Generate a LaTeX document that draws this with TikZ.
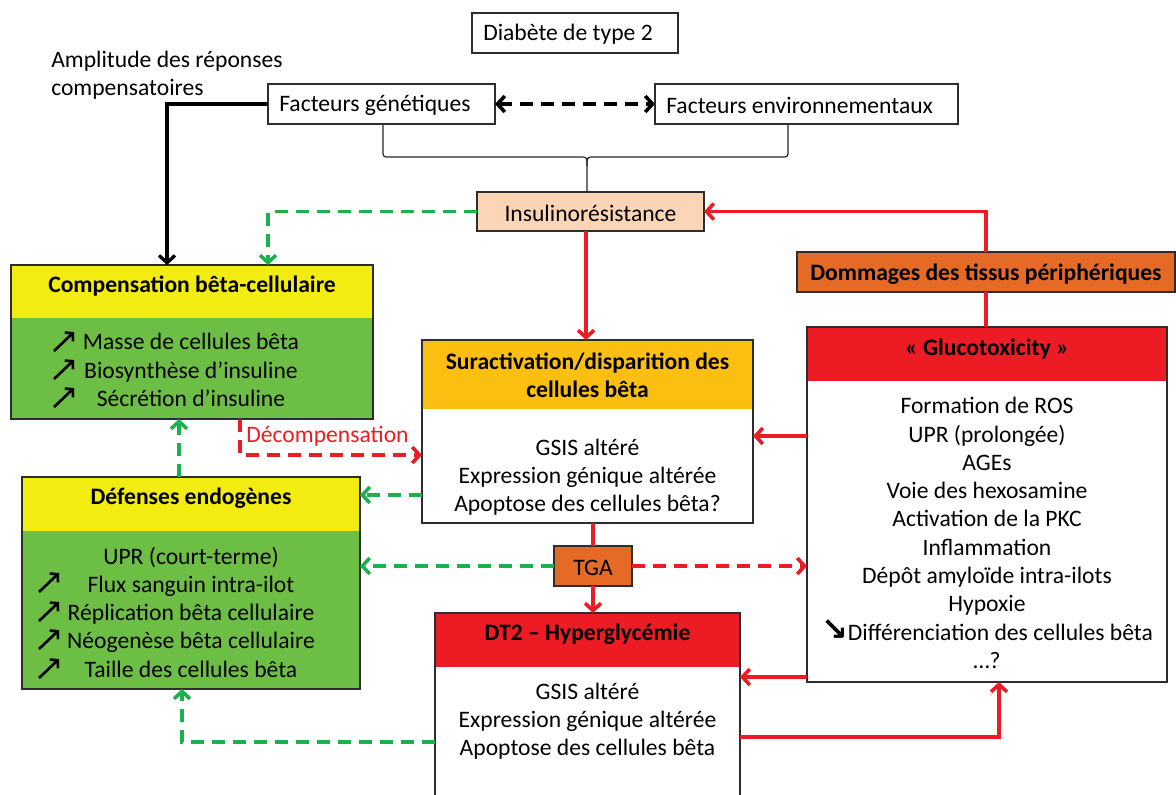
\documentclass[tikz,border=0pt]{standalone}
\usepackage{fontspec}
\setmainfont{Carlito}
\newfontfamily\arrfont{DejaVu Sans}
\usetikzlibrary{arrows.meta,fit}
\definecolor{hdyellow}{RGB}{243,236,17}
\definecolor{bodygreen}{RGB}{109,190,69}
\definecolor{hdorange}{RGB}{251,191,18}
\definecolor{myred}{RGB}{237,28,36}
\definecolor{myorange}{RGB}{228,106,38}
\definecolor{peach}{RGB}{251,213,181}
\definecolor{dashgreen}{RGB}{29,177,75}
\definecolor{boxborder}{RGB}{45,45,45}
\begin{document}
\begin{tikzpicture}[x=0.75pt,y=-0.75pt,
  txt/.style={font=\fontsize{17.7}{21.2}\selectfont, inner sep=0pt, align=center},
  ttl/.style={font=\fontsize{17.7}{21.2}\selectfont\bfseries, inner sep=0pt, align=center},
  area/.style={inner sep=0pt, outer sep=0pt},
  outline/.style={draw=boxborder, line width=1.1pt},
  symarr/.style={draw=black, line width=2pt, -{Straight Barb[length=4pt,width=9pt]}},
  tip/.style={-{Straight Barb[length=5.5pt,width=12pt]}},
  tips/.style={{Straight Barb[length=5.5pt,width=12pt]}-{Straight Barb[length=5.5pt,width=12pt]}},
  redl/.style={draw=myred, line width=2.7pt},
  reddash/.style={draw=myred, line width=2.7pt, dash pattern=on 9.75pt off 6pt},
  greenl/.style={draw=dashgreen, line width=2.7pt, dash pattern=on 9.75pt off 6pt},
  blackl/.style={draw=black, line width=2.5pt},
  blackdash/.style={draw=black, line width=2.7pt, dash pattern=on 9.75pt off 6pt},
  bracel/.style={draw=black!85, line width=0.9pt}
]
\useasboundingbox (0,0) rectangle (1176,794);
\clip (0,0) rectangle (1176,794);

% ---------- top boxes ----------
\node[area, fit={(472,13)(678,53)}] (diab) {};
\draw[outline] (diab.north west) rectangle (diab.south east);
\node[txt, anchor=west] (diabt) at (483,34) {Diabète de type 2};

\node[txt, anchor=west, align=left] (ampl) at (51,75) {Amplitude des réponses\\compensatoires};

\node[area, fit={(268,84)(495,124)}] (gen) {};
\draw[outline] (gen.north west) rectangle (gen.south east);
\node[txt, anchor=west] (gent) at (279,105) {Facteurs génétiques};

\node[area, fit={(655,84)(958,124)}] (env) {};
\draw[outline] (env.north west) rectangle (env.south east);
\node[txt, anchor=west] (envt) at (666,105) {Facteurs environnementaux};

\node[area, fill=peach, fit={(477,192)(704,231)}] (insul) {};
\draw[outline] (insul.north west) rectangle (insul.south east);
\node[txt] (insult) at (590.5,213) {Insulinorésistance};

% brace
\draw[bracel] (383,124) -- (383,150) .. controls (383,157) .. (390,157) -- (580,157)
   .. controls (587,157) .. (587,166) -- (587,192);
\draw[bracel] (788,124) -- (788,150) .. controls (788,157) .. (781,157) -- (594,157)
   .. controls (587,157) .. (587,166);

% ---------- Compensation ----------
\node[area, fill=bodygreen, fit={(11,265)(373,419)}] (comp) {};
\node[area, fill=hdyellow, fit={(11,265)(373,318)}] (comph) {};
\draw[outline] (comp.north west) rectangle (comp.south east);
\node[ttl] (compt) at (192,286) {Compensation bêta-cellulaire};
\node[txt] (compb) at (191,370) {Masse de cellules bêta\\Biosynthèse d’insuline\\Sécrétion d’insuline};
\foreach \yy in {342,370,398}
  \draw[symarr] (54,\yy+9) -- (74,\yy-10);

% ---------- Défenses ----------
\node[area, fill=bodygreen, fit={(22,477)(360,689)}] (def) {};
\node[area, fill=hdyellow, fit={(22,477)(360,531)}] (defh) {};
\draw[outline] (def.north west) rectangle (def.south east);
\node[ttl] (deft) at (191,498) {Défenses endogènes};
\node[txt] (defb) at (191,612) {UPR (court-terme)\\Flux sanguin intra-ilot\\Réplication bêta cellulaire\\Néogenèse bêta cellulaire\\Taille des cellules bêta};
\foreach \yy in {583,612,640,669}
  \draw[symarr] (39,\yy+9) -- (59,\yy-10);

% ---------- Suractivation ----------
\node[area, fill=white, fit={(422,340)(753,523)}] (sur) {};
\node[area, fill=hdorange, fit={(422,340)(753,409)}] (surh) {};
\draw[outline] (sur.north west) rectangle (sur.south east);
\node[ttl] (surt) at (587.5,375) {Suractivation/disparition des\\cellules bêta};
\node[txt] (surb) at (587.5,477) {GSIS altéré\\Expression génique altérée\\Apoptose des cellules bêta?};

% ---------- TGA ----------
\node[area, fill=myorange, fit={(554,546)(632,586)}] (tga) {};
\draw[outline] (tga.north west) rectangle (tga.south east);
\node[txt] (tgat) at (593,568) {TGA};

% ---------- DT2 ----------
\node[area, fill=white, fit={(435,613)(740,830)}] (dt2) {};
\node[area, fill=myred, fit={(435,613)(740,667)}] (dt2h) {};
\draw[outline] (dt2.north west) rectangle (dt2.south east);
\node[ttl] (dt2t) at (587.5,634) {DT2 – Hyperglycémie};
\node[txt] (dt2b) at (587.5,721) {GSIS altéré\\Expression génique altérée\\Apoptose des cellules bêta};

% ---------- Dommages ----------
\node[area, fill=myorange, fit={(797,252)(1175,292)}] (dom) {};
\draw[outline] (dom.north west) rectangle (dom.south east);
\node[ttl] (domt) at (986,274) {Dommages des tissus périphériques};

% ---------- Glucotoxicity ----------
\node[area, fill=white, fit={(807,327)(1167,682)}] (gluc) {};
\node[area, fill=myred, fit={(807,327)(1167,381)}] (gluch) {};
\draw[outline] (gluc.north west) rectangle (gluc.south east);
\node[ttl] (gluct) at (987,349) {«~Glucotoxicity~»};
\node[txt] (glucb) at (987,533) {Formation de ROS\\UPR (prolongée)\\AGEs\\Voie des hexosamine\\Activation de la PKC\\Inflammation\\Dépôt amyloïde intra-ilots\\Hypoxie\\{\arrfont\bfseries\fontsize{24}{21}\selectfont ↘}Différenciation des cellules bêta\\…?};

% ---------- helper coordinates ----------
\coordinate (bk) at (167,104);
\coordinate (g1) at (268,0);
\coordinate (xr) at (586,0);
\coordinate (yA) at (0,436);
\coordinate (d1) at (240,455);
\coordinate (g2) at (179,0);
\coordinate (y495) at (0,495);
\coordinate (yB) at (0,677);
\coordinate (r2) at (999,737);
\coordinate (g3) at (182,742);

% ---------- connectors ----------
\draw[blackl, tip] (gen.west) -- (bk) -- (bk |- comp.north);
\draw[blackdash, tips] (gen.east) -- (env.west);
\draw[greenl, tip] (insul.west) -| (g1 |- comp.north);
\draw[redl, tip] (insul.south -| xr) -- (sur.north -| xr);
\draw[redl, tip] (dom.north) |- (insul.east);
\draw[redl] (dom.south) -- (dom.south |- gluc.north);
\draw[redl, tip] (gluc.west |- yA) -- (sur.east |- yA);
\draw[reddash, tip] (comp.south -| d1) |- (sur.west |- d1);
\node[txt, text=myred] (decomp) at (327.5,436) {Décompensation};
\draw[greenl, tip] (def.north -| g2) -- (comp.south -| g2);
\draw[greenl, tip] (sur.west |- y495) -- (def.east |- y495);
\draw[redl] (sur.south -| tga.north) -- (tga.north);
\draw[redl, tip] (tga.south) -- (tga.south |- dt2.north);
\draw[greenl, tip] (tga.west) -- (tga.west -| def.east);
\draw[reddash, tip] (tga.east) -- (tga.east -| gluc.west);
\draw[redl, tip] (gluc.west |- yB) -- (dt2.east |- yB);
\draw[redl, tip] (dt2.east |- r2) -| (r2 |- gluc.south);
\draw[greenl, tip] (dt2.west |- g3) -| (g3 |- def.south);
\end{tikzpicture}
\end{document}
